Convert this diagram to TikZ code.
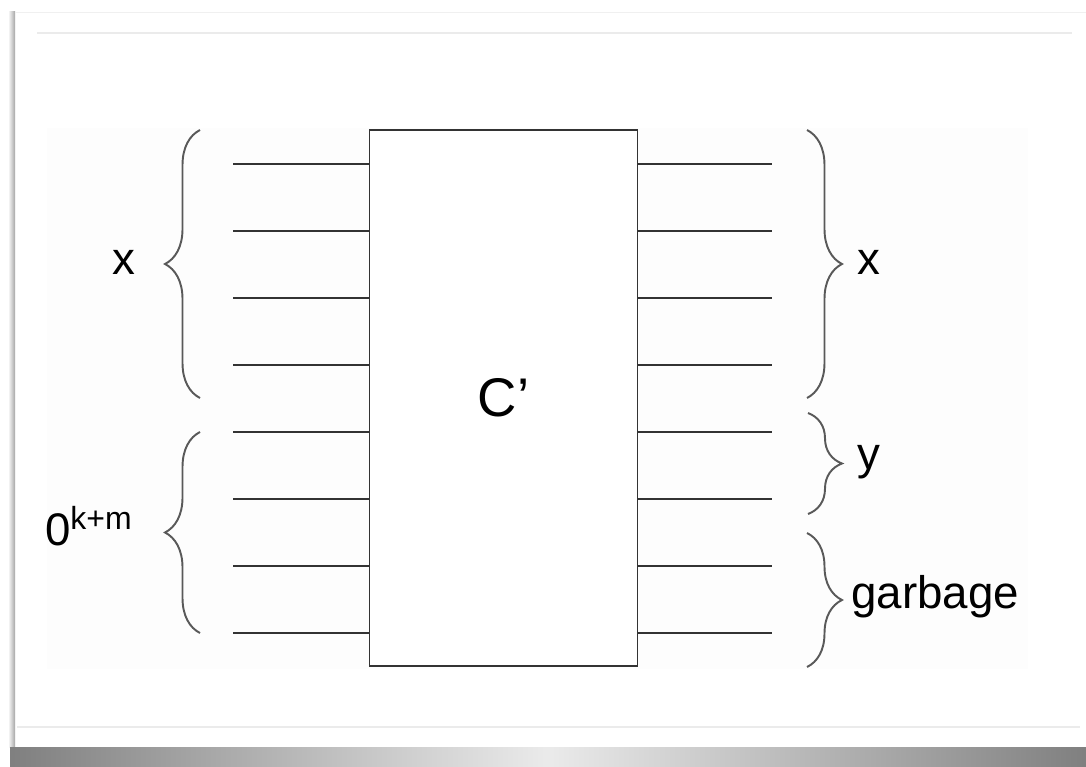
\documentclass[tikz,border=0pt]{standalone}
\usepackage{fontspec}
\setmainfont{Liberation Sans}
\usetikzlibrary{decorations.pathreplacing}
\tikzset{
  wire/.style={draw=black!80,line width=1.1pt},
  bracel/.style={draw=black!65,line width=1.1pt,decorate,decoration={brace,amplitude=0.7cm}},
  lbl/.style={inner sep=0pt,font=\fontsize{26}{30}\selectfont}
}
\begin{document}
\begin{tikzpicture}[x=0.02cm,y=-0.02cm]
    \useasboundingbox (0,0) rectangle (1086,767);
    \fill[white] (0,0) rectangle (1086,767);
    \shade[left color=white,right color=black!35] (8,12) rectangle (15,747);
    \shade[left color=black!50,right color=black!50,middle color=black!8] (10,747) rectangle (1086,767);
    \draw[black!6] (15,12) -- (1086,12);
    \draw[black!8,line width=0.6pt] (37,33) -- (1072,33);
    \draw[black!8,line width=0.6pt] (17,727) -- (1080,727);
    \fill[black!0.8] (47,128) rectangle (1028,669);
    \node[draw=black!80,line width=1.1pt,fill=white,minimum width=5.36cm,minimum height=10.72cm,inner sep=0pt,font=\fontsize{31}{36}\selectfont] (gate) at (503.5,398) {C'};
    \foreach \y [count=\i] in {164,231,298,365,432,499,566,633} {
      \coordinate (in\i) at (233,\y);
      \coordinate (out\i) at (772,\y);
      \draw[wire] (in\i) -- (in\i -| gate.west);
      \draw[wire] (gate.east |- out\i) -- (out\i);
    }
    \draw[bracel] (200,398) -- (200,130);
    \draw[bracel] (200,633) -- (200,432);
    \draw[bracel] (807,130) -- (807,398);
    \draw[bracel,decoration={amplitude=0.68cm}] (808,413) -- (808,514);
    \draw[bracel] (807,533) -- (807,667);
    \node[lbl,anchor=base east] (xin) at (136,275) {x};
    \node[lbl,anchor=base east] (zin) at (133,545) {0\textsuperscript{k+m}};
    \node[lbl,anchor=base west] (xout) at (857,275) {x};
    \node[lbl,anchor=base west] (yout) at (857,469) {y};
    \node[lbl,anchor=base west] (gout) at (851,608) {garbage};
\end{tikzpicture}
\end{document}
